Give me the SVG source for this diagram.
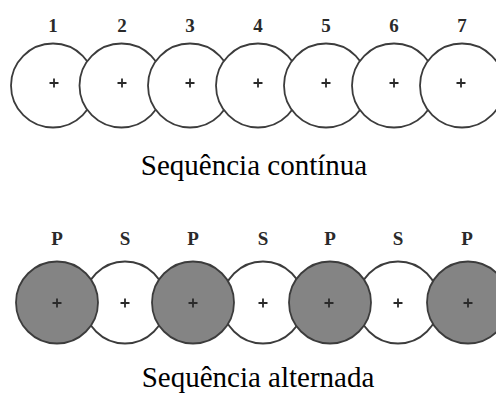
<svg xmlns="http://www.w3.org/2000/svg" width="496" height="394" viewBox="0 0 496 394">
<defs>
<style>
.c{fill:#fff;stroke:#3c3c3c;stroke-width:1.8}
.p{fill:#848484;stroke:#3c3c3c;stroke-width:1.8}
.x{stroke:#2a2a2a;stroke-width:1.8;fill:none}
.lb{font-family:"Liberation Serif",serif;font-weight:bold;font-size:19px;fill:#2a2a2a;text-anchor:middle}
.cap{font-family:"Liberation Serif","Times New Roman",serif;font-size:29px;fill:#000;text-anchor:middle}
</style>
<path id="plus" class="x" d="M-4.5,0H4.5M0,-4.5V4.5"/>
</defs>
<rect width="496" height="394" fill="#fff"/>
<g id="row1">
<g id="n1"><text class="lb" x="53" y="32">1</text><circle class="c" cx="53" cy="85.5" r="42"/><use href="#plus" x="54" y="83"/></g>
<g id="n2"><text class="lb" x="122" y="32">2</text><circle class="c" cx="121.5" cy="85.5" r="42"/><use href="#plus" x="122" y="83"/></g>
<g id="n3"><text class="lb" x="190" y="32">3</text><circle class="c" cx="190" cy="85.5" r="42"/><use href="#plus" x="190" y="83"/></g>
<g id="n4"><text class="lb" x="258" y="32">4</text><circle class="c" cx="258" cy="85.5" r="42"/><use href="#plus" x="258" y="83"/></g>
<g id="n5"><text class="lb" x="326" y="32">5</text><circle class="c" cx="326" cy="85.5" r="42"/><use href="#plus" x="326" y="83"/></g>
<g id="n6"><text class="lb" x="394" y="32">6</text><circle class="c" cx="394" cy="85.5" r="42"/><use href="#plus" x="394" y="83"/></g>
<g id="n7"><text class="lb" x="462" y="32">7</text><circle class="c" cx="462" cy="85.5" r="42"/><use href="#plus" x="461" y="83"/></g>
</g>
<text class="cap" x="254" y="175">Sequência contínua</text>
<g id="row2">
<g id="s2"><text class="lb" x="125" y="245">S</text><circle class="c" cx="125" cy="302.5" r="41"/><use href="#plus" x="125" y="303"/></g>
<g id="s4"><text class="lb" x="263" y="245">S</text><circle class="c" cx="263" cy="302.5" r="41"/><use href="#plus" x="263" y="303"/></g>
<g id="s6"><text class="lb" x="398" y="245">S</text><circle class="c" cx="398" cy="302.5" r="41"/><use href="#plus" x="398" y="303"/></g>
<g id="p1"><text class="lb" x="57" y="245">P</text><circle class="p" cx="57" cy="302.5" r="41"/><use href="#plus" x="57" y="303"/></g>
<g id="p3"><text class="lb" x="193" y="245">P</text><circle class="p" cx="193" cy="302.5" r="41"/><use href="#plus" x="193" y="303"/></g>
<g id="p5"><text class="lb" x="330" y="245">P</text><circle class="p" cx="330" cy="302.5" r="41"/><use href="#plus" x="329" y="303"/></g>
<g id="p7"><text class="lb" x="467" y="245">P</text><circle class="p" cx="468" cy="302.5" r="41"/><use href="#plus" x="468" y="303"/></g>
</g>
<text class="cap" x="258" y="387">Sequência alternada</text>
<g id="connectors"/>
</svg>
